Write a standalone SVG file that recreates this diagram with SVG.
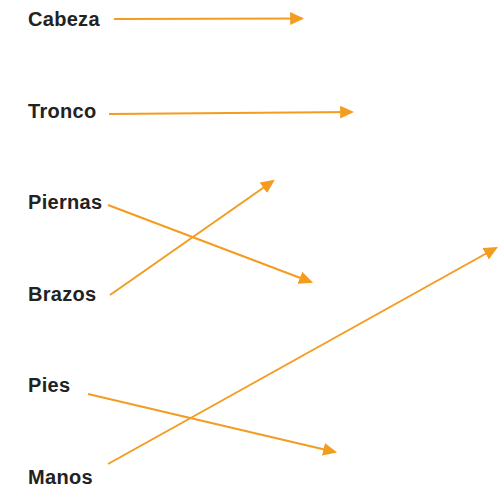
<svg xmlns="http://www.w3.org/2000/svg" width="498" height="489" viewBox="0 0 498 489">
<defs>
<style>
.lbl{font-family:"Liberation Sans",Arial,sans-serif;font-weight:bold;font-size:20px;fill:#222222;letter-spacing:0.3px}
.con{stroke:#F39C1F;stroke-width:2;fill:none;marker-end:url(#ah)}
</style>
<marker id="ah" markerUnits="userSpaceOnUse" markerWidth="14" markerHeight="14" refX="11" refY="6" orient="auto" viewBox="0 0 13 12">
<path d="M0,0 L13,6 L0,12 z" fill="#F39C1F"/>
</marker>
</defs>
<rect width="498" height="489" fill="#ffffff"/>
<g id="cabeza"><text class="lbl" x="28" y="26">Cabeza</text></g>
<g id="tronco"><text class="lbl" x="28" y="117.5">Tronco</text></g>
<g id="piernas"><text class="lbl" x="28" y="209">Piernas</text></g>
<g id="brazos"><text class="lbl" x="28" y="300.5">Brazos</text></g>
<g id="pies"><text class="lbl" x="28" y="392">Pies</text></g>
<g id="manos"><text class="lbl" x="28" y="483.5">Manos</text></g>
<g id="connectors">
<line class="con" x1="114" y1="19" x2="302" y2="18.5"/>
<line class="con" x1="109" y1="114" x2="352" y2="112"/>
<line class="con" x1="108" y1="205" x2="311" y2="282"/>
<line class="con" x1="110" y1="295" x2="273" y2="181"/>
<line class="con" x1="88" y1="394" x2="335" y2="452"/>
<line class="con" x1="108" y1="464" x2="496" y2="248"/>
</g>
</svg>
